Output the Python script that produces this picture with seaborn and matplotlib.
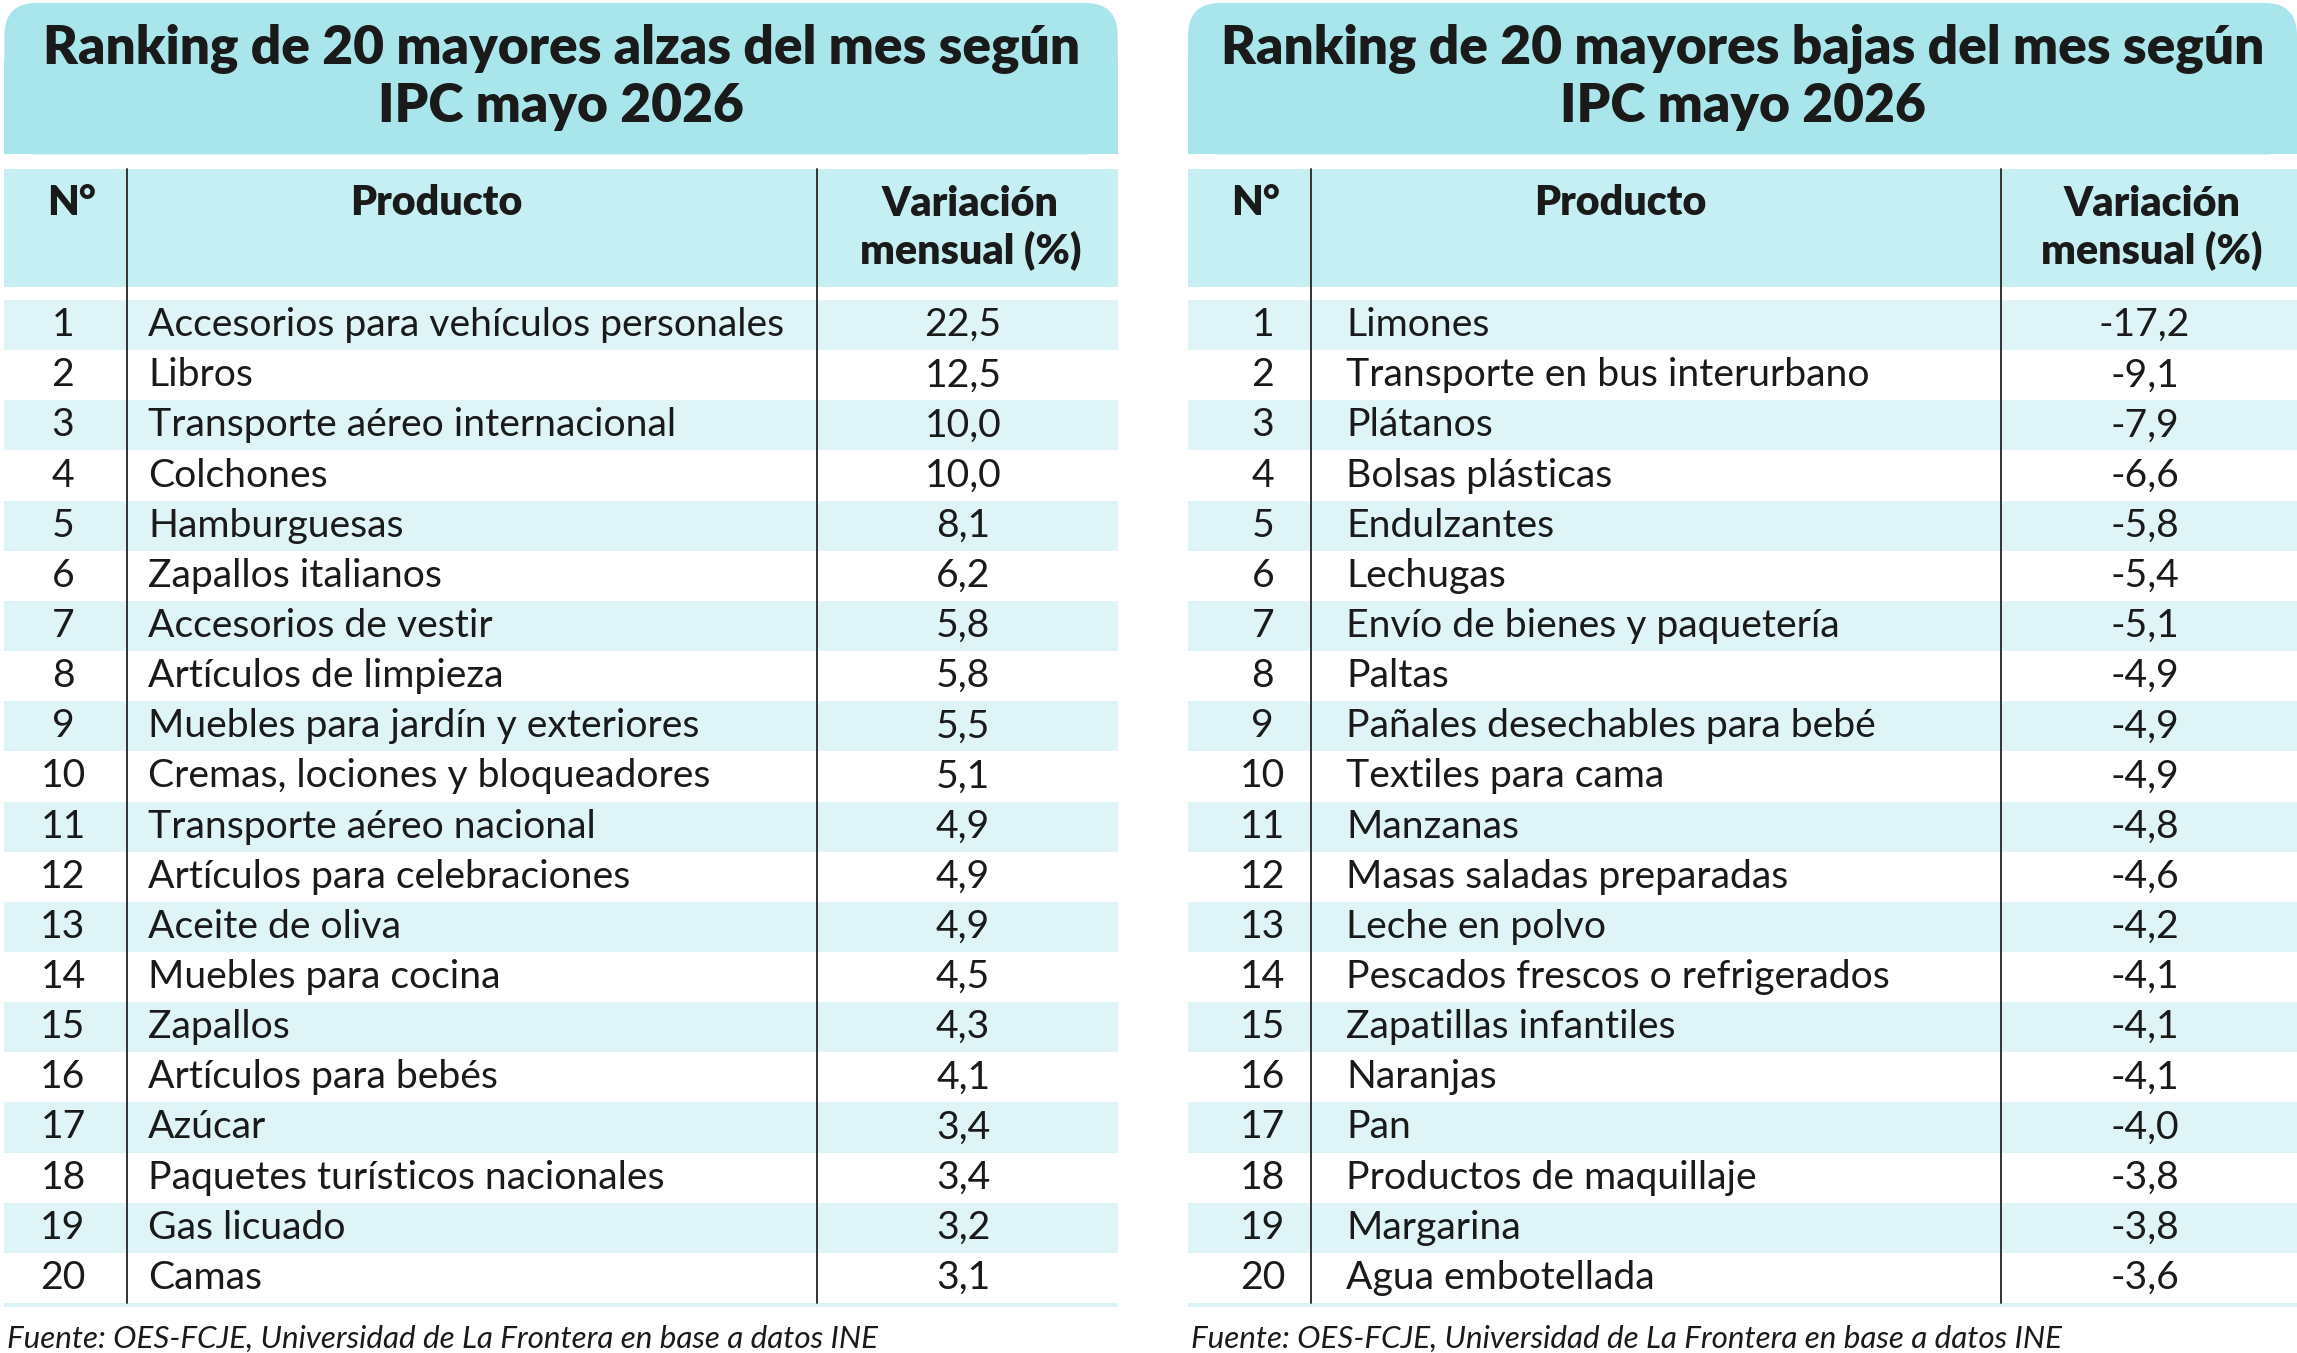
import matplotlib
matplotlib.use("Agg")
import matplotlib.pyplot as plt
from matplotlib.patches import Rectangle, FancyBboxPatch
import seaborn as sns

sns.set_theme(style="white")
plt.rcParams['font.family'] = ['Lato', 'DejaVu Sans']

title_up = "Ranking de 20 mayores alzas del mes según\nIPC mayo 2026"
title_down = "Ranking de 20 mayores bajas del mes según\nIPC mayo 2026"
headers = ["N°", "Producto", "Variación\nmensual (%)"]
ranks = list(range(1, 21))
prod_up = ["Accesorios para vehículos personales", "Libros", "Transporte aéreo internacional",
           "Colchones", "Hamburguesas", "Zapallos italianos", "Accesorios de vestir",
           "Artículos de limpieza", "Muebles para jardín y exteriores", "Cremas, lociones y bloqueadores",
           "Transporte aéreo nacional", "Artículos para celebraciones", "Aceite de oliva",
           "Muebles para cocina", "Zapallos", "Artículos para bebés", "Azúcar",
           "Paquetes turísticos nacionales", "Gas licuado", "Camas"]
val_up = [22.5, 12.5, 10.0, 10.0, 8.1, 6.2, 5.8, 5.8, 5.5, 5.1, 4.9, 4.9, 4.9, 4.5, 4.3, 4.1, 3.4, 3.4, 3.2, 3.1]
prod_down = ["Limones", "Transporte en bus interurbano", "Plátanos", "Bolsas plásticas", "Endulzantes",
             "Lechugas", "Envío de bienes y paquetería", "Paltas", "Pañales desechables para bebé",
             "Textiles para cama", "Manzanas", "Masas saladas preparadas", "Leche en polvo",
             "Pescados frescos o refrigerados", "Zapatillas infantiles", "Naranjas", "Pan",
             "Productos de maquillaje", "Margarina", "Agua embotellada"]
val_down = [-17.2, -9.1, -7.9, -6.6, -5.8, -5.4, -5.1, -4.9, -4.9, -4.9, -4.8, -4.6, -4.2,
            -4.1, -4.1, -4.1, -4.0, -3.8, -3.8, -3.6]
source = "Fuente: OES-FCJE, Universidad de La Frontera en base a datos INE"

W, H = 1568, 920
fig = plt.figure(figsize=(11.485, 6.765), dpi=200)
ax = fig.add_axes([0, 0, 1, 1])
ax.set_xlim(0, W); ax.set_ylim(H, 0); ax.axis('off')

C_TITLE = "#a9e6ec"; C_HEAD = "#c6eff3"; C_ALT = "#def4f6"; TXT = "#1a1a1a"

def fmt(v):
    return f"{v:.1f}".replace(".", ",")

def table(x0, x1, title, prods, vals, txt_off, rank_x):
    ax.add_patch(FancyBboxPatch((x0, 2), x1 - x0, 103, boxstyle="round,pad=0,rounding_size=22",
                                fc=C_TITLE, ec="none"))
    ax.add_patch(Rectangle((x0, 40), x1 - x0, 65, fc=C_TITLE, ec="none"))
    ax.text((x0 + x1) / 2, 53, title, ha='center', va='center', fontsize=19.2,
            fontweight='heavy', color=TXT, linespacing=1.2)
    ax.add_patch(Rectangle((x0, 115), x1 - x0, 80, fc=C_HEAD, ec="none"))
    d1, d2 = x0 + 84, x0 + 555
    cx2 = (d2 + x1) / 2 + 2
    ax.text(x0 + 46, 138, headers[0], ha='center', va='center', fontsize=14.8, fontweight='heavy', color=TXT)
    ax.text(d1 + 211, 138, headers[1], ha='center', va='center', fontsize=14.8, fontweight='heavy', color=TXT)
    ax.text(cx2, 155, headers[2], ha='center', va='center', fontsize=14.8, fontweight='heavy',
            color=TXT, linespacing=1.25)
    y0, rh = 204, 34.1
    for i, (r, p, v) in enumerate(zip(ranks, prods, vals)):
        yt = y0 + i * rh
        if i % 2 == 0:
            ax.add_patch(Rectangle((x0, yt), x1 - x0, rh, fc=C_ALT, ec="none"))
        yc = yt + rh / 2
        ax.text(x0 + rank_x, yc, str(r), ha='center', va='center', fontsize=14.1, color=TXT)
        ax.text(d1 + txt_off, yc, p, ha='left', va='center', fontsize=14.1, color=TXT)
        ax.text(cx2 - 5, yc, fmt(v), ha='center', va='center', fontsize=14.1, color=TXT)
    ybot = y0 + 20 * rh
    ax.plot([d1, d1], [115, ybot], color="#333333", lw=0.7)
    ax.plot([d2, d2], [115, ybot], color="#333333", lw=0.7)
    ax.add_patch(Rectangle((x0, ybot), x1 - x0, 3, fc=C_ALT, ec="none"))
    ax.text(x0 + 2, 910, source, ha='left', va='center', fontsize=11.3, style='italic', color=TXT)

table(3, 763, title_up, prod_up, val_up, 14, 40)
table(811, 1568, title_down, prod_down, val_down, 24, 51)

fig.savefig("out.png", dpi=200, facecolor="white")
